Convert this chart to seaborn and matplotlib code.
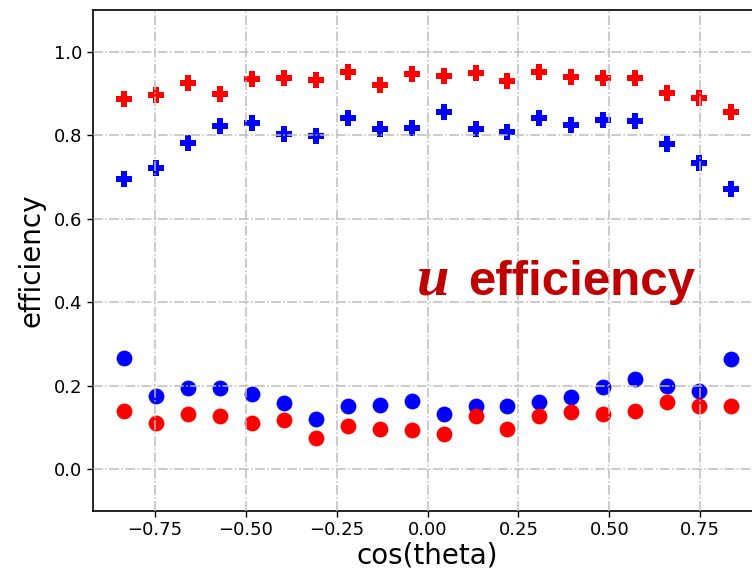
import numpy as np
import pandas as pd
import matplotlib
matplotlib.use("Agg")
import matplotlib.pyplot as plt
import seaborn as sns

# bin centres in cos(theta)
cos_theta = np.linspace(-0.836, 0.836, 20)

# efficiencies per bin
red_cross = [0.886, 0.896, 0.926, 0.899, 0.934, 0.936, 0.933, 0.952, 0.921, 0.946,
             0.941, 0.950, 0.929, 0.951, 0.939, 0.938, 0.938, 0.902, 0.890, 0.855]
blue_cross = [0.694, 0.722, 0.782, 0.822, 0.828, 0.804, 0.798, 0.840, 0.814, 0.818,
              0.855, 0.816, 0.807, 0.842, 0.824, 0.836, 0.835, 0.778, 0.734, 0.670]
blue_dot = [0.267, 0.175, 0.194, 0.195, 0.179, 0.158, 0.120, 0.150, 0.154, 0.163,
            0.132, 0.150, 0.152, 0.160, 0.172, 0.196, 0.215, 0.198, 0.188, 0.263]
red_dot = [0.140, 0.110, 0.131, 0.128, 0.110, 0.118, 0.074, 0.102, 0.096, 0.094,
           0.083, 0.127, 0.096, 0.127, 0.136, 0.131, 0.140, 0.160, 0.152, 0.151]

x_ticks = [-0.75, -0.50, -0.25, 0.00, 0.25, 0.50, 0.75]
y_ticks = [0.0, 0.2, 0.4, 0.6, 0.8, 1.0]

sns.set_theme(style="ticks")
plt.rcParams["font.family"] = ["DejaVu Sans"]

fig = plt.figure(figsize=(7.52, 5.75), dpi=100)
ax = fig.add_axes([0.1237, 0.1118, 0.8896, 0.8708])

series = [
    (red_cross, "red", "P"),
    (blue_cross, "blue", "P"),
    (blue_dot, "blue", "o"),
    (red_dot, "red", "o"),
]
for vals, col, mk in series:
    df = pd.DataFrame({"cos(theta)": cos_theta, "efficiency": vals})
    sns.scatterplot(data=df, x="cos(theta)", y="efficiency", ax=ax,
                    color=col, marker=mk, s=130, linewidth=0, zorder=1)

ax.set_xlim(-0.92, 0.92)
ax.set_ylim(-0.1, 1.1)
ax.set_xticks(x_ticks)
ax.set_yticks(y_ticks)
ax.set_xticklabels([f"{t:.2f}".replace("-", "\u2212") for t in x_ticks])
ax.set_yticklabels([f"{t:.1f}" for t in y_ticks])
ax.tick_params(axis="both", labelsize=13, colors="black", length=4, width=1)
ax.set_xlabel("cos(theta)", fontsize=20, color="black", labelpad=2)
ax.set_ylabel("efficiency", fontsize=20, color="black", labelpad=6)

ax.set_axisbelow(False)
ax.grid(True, color="#bdbdbd", linestyle="-.", linewidth=1.1)
for sp in ax.spines.values():
    sp.set_visible(True)
    sp.set_color("black")
    sp.set_linewidth(1.2)

ax.text(-0.028, 0.418, "u", fontsize=42, color="#c00000",
        family="Liberation Serif", style="italic", weight="bold",
        ha="left", va="baseline")
ax.text(0.112, 0.418, "efficiency", fontsize=35.5, color="#c00000",
        family="Liberation Sans", weight="bold", ha="left", va="baseline")

fig.savefig("out.png", dpi=100)
